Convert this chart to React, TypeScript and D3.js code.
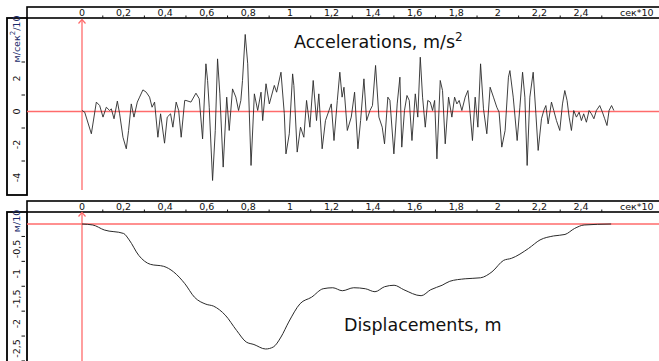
import React from 'react';
import * as d3 from 'd3';

// time axis, сек*10
const xTicks = [0, 0.2, 0.4, 0.6, 0.8, 1, 1.2, 1.4, 1.6, 1.8, 2, 2.2, 2.4];
const xMinorTicks = [0.1, 0.3, 0.5, 0.7, 0.9, 1.1, 1.3, 1.5, 1.7, 1.9, 2.1, 2.3, 2.5];
const accelTicks = [2, 0, -2, -4];
const accelMinorTicks = [3, 1, -1, -3];
const dispTicks = [-0.5, -1, -1.5, -2, -2.5];
const dispMinorTicks = [-0.25, -0.75, -1.25, -1.75, -2.25, -2.75];

// accelerations, m/s^2
const accelTime = [0, 0.013, 0.045, 0.069, 0.085, 0.101, 0.117, 0.133, 0.141, 0.154, 0.17, 0.181, 0.197, 0.213, 0.224, 0.237, 0.25, 0.266, 0.277, 0.293, 0.309, 0.325, 0.337, 0.349, 0.365, 0.378, 0.397, 0.41, 0.426, 0.437, 0.453, 0.465, 0.477, 0.494, 0.5, 0.524, 0.548, 0.564, 0.58, 0.596, 0.604, 0.612, 0.628, 0.641, 0.652, 0.663, 0.679, 0.696, 0.708, 0.724, 0.74, 0.753, 0.764, 0.772, 0.785, 0.797, 0.813, 0.829, 0.845, 0.861, 0.869, 0.885, 0.901, 0.925, 0.936, 0.957, 0.973, 0.981, 0.997, 1.013, 1.019, 1.035, 1.051, 1.067, 1.08, 1.096, 1.112, 1.128, 1.139, 1.155, 1.171, 1.188, 1.199, 1.212, 1.228, 1.24, 1.251, 1.26, 1.276, 1.295, 1.311, 1.327, 1.34, 1.356, 1.369, 1.385, 1.397, 1.412, 1.428, 1.444, 1.455, 1.471, 1.481, 1.5, 1.516, 1.529, 1.538, 1.551, 1.563, 1.574, 1.587, 1.603, 1.615, 1.627, 1.638, 1.651, 1.663, 1.675, 1.686, 1.696, 1.707, 1.723, 1.734, 1.747, 1.763, 1.779, 1.792, 1.803, 1.814, 1.827, 1.843, 1.856, 1.867, 1.878, 1.891, 1.904, 1.917, 1.931, 1.947, 1.963, 1.979, 1.995, 2.006, 2.019, 2.035, 2.051, 2.058, 2.074, 2.093, 2.106, 2.119, 2.13, 2.141, 2.154, 2.17, 2.183, 2.194, 2.21, 2.221, 2.231, 2.242, 2.258, 2.269, 2.282, 2.298, 2.311, 2.322, 2.333, 2.343, 2.354, 2.365, 2.378, 2.391, 2.402, 2.413, 2.426, 2.439, 2.45, 2.462, 2.474, 2.49, 2.503, 2.514, 2.525, 2.535, 2.547, 2.558];
const accelValue = [0.06, -0.04, -1.35, 0.57, 0.36, -0.34, 0.26, 0.06, 0.16, -0.44, 0.63, -0.14, -1.56, -2.26, -1.15, 0.46, -0.34, 0.57, 0.87, 1.31, 1.17, 0.87, 0.26, 0.57, -1.56, -0.14, -1.92, -0.34, -0.14, -0.95, 0.57, 0.06, -1.56, 0.67, 0.67, 0.57, 1.11, 0.77, -1.66, 2.89, 1.88, 0.26, -4.18, -1.15, 3.19, 1.07, -3.37, 0.87, -1.15, 1.37, 0.87, 0.06, 0.67, 1.88, 4.67, 2.89, -3.27, 1.07, 0.06, 1.17, -0.55, 1.68, 0.46, 1.58, 1.17, 2.38, -0.14, -2.57, -1.35, 2.28, 1.58, -2.46, -0.95, -1.56, 0.67, -0.95, 1.88, -0.55, 1.07, -2.26, -0.55, 0.06, 0.46, -1.76, 0.67, 2.38, 0.87, 1.47, -1.15, -0.34, 1.17, -2.26, -0.55, 1.98, -0.55, 0.06, 0.36, 2.79, -0.34, -0.95, -1.96, 0.87, 0.67, -2.57, 0.46, 2.08, -2.16, 0.06, 0.97, 0.67, -1.76, 1.07, -0.34, 3.29, 0.87, -0.95, 0.67, 0.57, 0.06, 0.67, -2.87, 1.88, 1.27, -1.96, 0.87, -0.34, 0.87, 0.46, 0.67, 0.06, 0.87, 1.27, -0.14, -1.76, 0.87, -0.95, 2.89, 0.16, -1.35, 1.47, 0.87, 0.26, -0.04, -2.16, -1.15, 2.08, 2.48, 0.87, -1.76, 0.26, 2.38, 0.87, -3.27, 0.87, 2.38, -0.14, -2.36, -0.44, 0.06, 0.36, -0.75, 0.57, 0.06, -0.55, -1.15, 0.46, 1.27, 0.67, -0.34, -1.15, 0.06, -0.34, -0.04, -0.55, -0.14, -0.65, 0.06, -0.14, -0.44, 0.06, 0.36, -0.04, -0.44, -0.85, 0.06, 0.36, 0.06];

// displacements, m/10
const dispTime = [0, 0.052, 0.107, 0.2, 0.227, 0.273, 0.329, 0.393, 0.44, 0.495, 0.541, 0.596, 0.633, 0.689, 0.744, 0.79, 0.827, 0.883, 0.92, 0.957, 0.994, 1.049, 1.104, 1.16, 1.206, 1.252, 1.307, 1.363, 1.409, 1.455, 1.501, 1.548, 1.631, 1.677, 1.732, 1.769, 1.843, 1.917, 1.972, 2.028, 2.065, 2.148, 2.203, 2.268, 2.323, 2.369, 2.415, 2.545];
const dispValue = [0, -0.02, -0.12, -0.19, -0.32, -0.63, -0.81, -0.85, -0.96, -1.2, -1.47, -1.61, -1.65, -1.83, -2.14, -2.37, -2.42, -2.51, -2.47, -2.27, -1.97, -1.6, -1.47, -1.3, -1.28, -1.34, -1.28, -1.3, -1.36, -1.26, -1.23, -1.32, -1.44, -1.32, -1.23, -1.15, -1.1, -1.08, -0.96, -0.73, -0.69, -0.49, -0.32, -0.24, -0.21, -0.09, -0.02, 0];

const W = 659;
const H = 361;
const RED = '#ff6b6b';
const FONT = 'DejaVu Sans, sans-serif';

const fmt = d3.formatLocale({ decimal: ',', thousands: ' ', grouping: [3], currency: ['', ''], minus: '-' }).format('~g');

const x = d3.scaleLinear().domain([0, 2.4]).range([82, 581]);

type PanelProps = {
  top: number; // y of the time bar
  bottom: number;
  zeroY: number;
  y: d3.ScaleLinear<number, number>;
  ticks: number[];
  minor: number[];
  unit: React.ReactNode;
  unitY: number;
};

const Panel = ({ top, bottom, zeroY, y, ticks, minor, unit, unitY }: PanelProps) => {
  const barH = 11;
  return <g>
      {/* time bar */}
      <rect x={27} y={top} width={W - 26} height={barH} fill="white" stroke="black" strokeWidth={1.6} />
      {xTicks.map(t => <text key={t} x={x(t)} y={top + 9} fontSize={9.5} fontFamily={FONT} textAnchor="middle" fill="#111">{fmt(t)}</text>)}
      {xMinorTicks.map(t => <line key={t} x1={x(t)} x2={x(t)} y1={top + barH - 2.5} y2={top + barH} stroke="#111" strokeWidth={1} />)}
      <text x={620} y={top + 9} fontSize={9.5} fontFamily={FONT} fill="#111">сек*10</text>
      {/* value bar */}
      <rect x={7} y={top + barH} width={20} height={bottom - top - barH} fill="white" stroke="black" strokeWidth={1.8} />
      {ticks.map(v => <text key={v} transform={`translate(16,${y(v)}) rotate(-90)`} fontSize={9.5} fontFamily={FONT} textAnchor="middle" dominantBaseline="central" fill="#111">{fmt(v)}</text>)}
      {minor.filter(v => y(v) > top + 14 && y(v) < bottom - 2).map(v => <line key={v} x1={21.5} x2={25} y1={y(v)} y2={y(v)} stroke="#111" strokeWidth={1} />)}
      <text transform={`translate(16,${unitY}) rotate(-90)`} fontSize={9.5} fontFamily={FONT} textAnchor="middle" dominantBaseline="central" fill="#1a2a6a">{unit}</text>
      {/* red axes */}
      <line x1={27} x2={W} y1={zeroY} y2={zeroY} stroke={RED} strokeWidth={1.3} />
    </g>;
};

export default function App() {
  const yA = d3.scaleLinear().domain([-4, 2]).range([177.5, 78.5]);
  const yD = d3.scaleLinear().domain([-2.5, 0]).range([348.5, 224]);
  const accelLine = d3.line<number>().x((_, i) => x(accelTime[i])).y(v => yA(v));
  const dispLine = d3.line<number>().x((_, i) => x(dispTime[i])).y(v => yD(v)).curve(d3.curveMonotoneX);
  const arrow = (yTop: number) => `M${x(0) - 3.5},${yTop + 4} L${x(0)},${yTop} L${x(0) + 3.5},${yTop + 4}`;
  return <div style={{ position: 'fixed', left: 0, top: 0 }}>
      <svg width={W} height={H} viewBox={`0 0 ${W} ${H}`} style={{ display: 'block', background: 'white' }}>
        <Panel top={7} bottom={195} zeroY={yA(0)} y={yA} ticks={accelTicks} minor={accelMinorTicks} unitY={39} unit={<>м/сек<tspan dy={-3} fontSize={7}>2</tspan><tspan dy={3}>/10</tspan></>} />
        <Panel top={201} bottom={H + 2} zeroY={yD(0)} y={yD} ticks={dispTicks} minor={dispMinorTicks} unitY={221} unit="м/10" />

        <line x1={x(0)} x2={x(0)} y1={20} y2={190} stroke={RED} strokeWidth={1.3} />
        <path d={arrow(19.5)} fill="none" stroke={RED} strokeWidth={1.2} />
        <line x1={x(0)} x2={x(0)} y1={213} y2={H} stroke={RED} strokeWidth={1.3} />
        <path d={arrow(212.5)} fill="none" stroke={RED} strokeWidth={1.2} />

        <path d={accelLine(accelValue) || ''} fill="none" stroke="#2a2a2a" strokeWidth={0.9} />
        <path d={dispLine(dispValue) || ''} fill="none" stroke="#2a2a2a" strokeWidth={1} />

        <text x={294} y={48} fontSize={17.5} fontFamily={FONT} fill="#111">Accelerations, m/s<tspan dy={-7} fontSize={12}>2</tspan></text>
        <text x={344} y={331} fontSize={17.5} fontFamily={FONT} fill="#111">Displacements, m</text>
      </svg>
    </div>;
}
